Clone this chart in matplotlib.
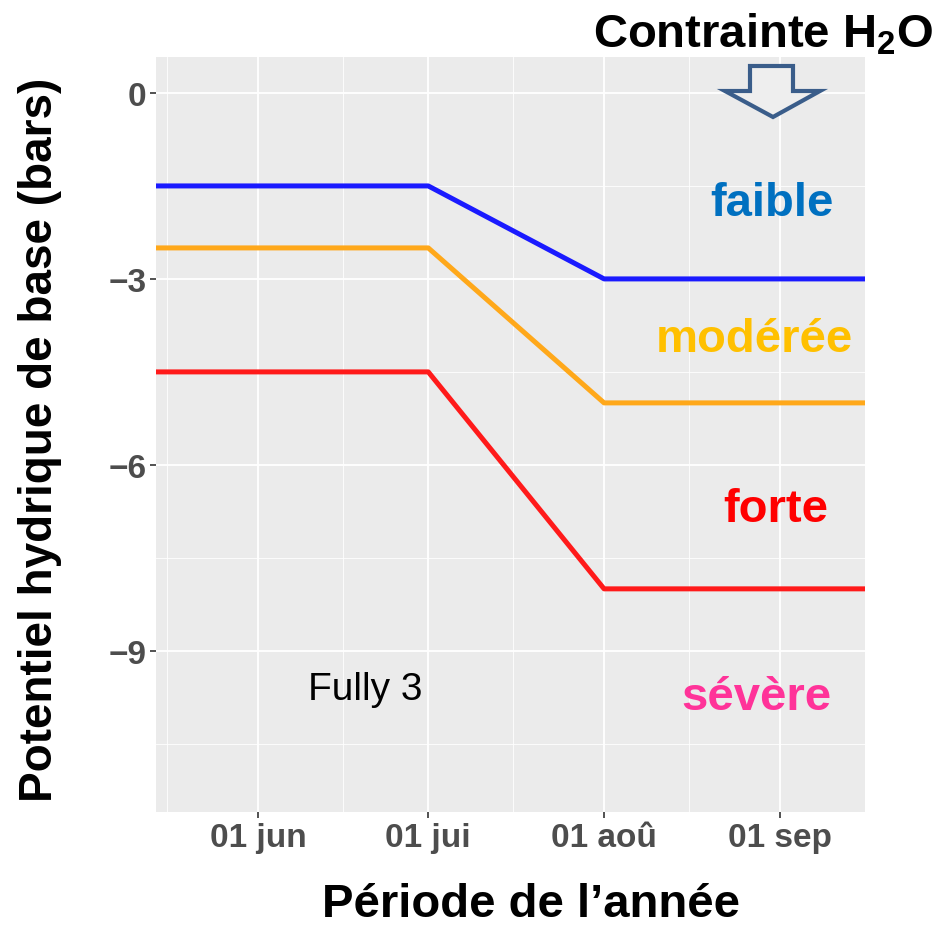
import numpy as np
import matplotlib
matplotlib.use("Agg")
import matplotlib.pyplot as plt
import matplotlib.dates as mdates
from matplotlib.patches import Polygon
import datetime as dt

plt.rcParams['font.family'] = ['Liberation Sans', 'DejaVu Sans']
plt.rcParams['mathtext.fontset'] = 'custom'
plt.rcParams['mathtext.rm'] = 'Liberation Sans'
plt.rcParams['mathtext.bf'] = 'Liberation Sans:bold'

# data
dates = [dt.date(2020, 5, 14), dt.date(2020, 7, 1), dt.date(2020, 8, 1), dt.date(2020, 9, 16)]
faible = [-1.5, -1.5, -3.0, -3.0]
moderee = [-2.5, -2.5, -5.0, -5.0]
forte = [-4.5, -4.5, -8.0, -8.0]

tick_dates = [dt.date(2020, 6, 1), dt.date(2020, 7, 1), dt.date(2020, 8, 1), dt.date(2020, 9, 1)]
tick_labels = ["01 jun", "01 jui", "01 aoû", "01 sep"]
minor_dates = [dt.date(2020, 5, 16), dt.date(2020, 6, 16), dt.date(2020, 7, 16), dt.date(2020, 8, 16)]
y_ticks = [0, -3, -6, -9]
y_tick_labels = ["0", "\u22123", "\u22126", "\u22129"]
y_minor = [-1.5, -4.5, -7.5, -10.5]

W, H = 939, 928
fig = plt.figure(figsize=(W / 100, H / 100), dpi=100)
L, R, T, B = 156, 865, 58, 813
ax = fig.add_axes([L / W, 1 - B / H, (R - L) / W, (B - T) / H])
ax.set_facecolor('#EBEBEB')

x = mdates.date2num(dates)
ax.plot(x, faible, color='#1A1AFF', lw=3.6, solid_capstyle='butt', zorder=3)
ax.plot(x, moderee, color='#FFA81A', lw=3.6, solid_capstyle='butt', zorder=3)
ax.plot(x, forte, color='#FF1A1A', lw=3.6, solid_capstyle='butt', zorder=3)

ax.set_xlim(x[0], x[-1])
ax.set_ylim(-11.6, 0.58)

ax.set_xticks(mdates.date2num(tick_dates))
ax.set_xticklabels(tick_labels)
ax.set_xticks(mdates.date2num(minor_dates), minor=True)
ax.set_yticks(y_ticks)
ax.set_yticklabels(y_tick_labels)
ax.set_yticks(y_minor, minor=True)

ax.grid(True, which='major', color='white', lw=1.3)
ax.grid(True, which='minor', color='white', lw=0.6)
ax.set_axisbelow(True)
for s in ax.spines.values():
    s.set_visible(False)

ax.tick_params(which='major', length=4, width=1.2, color='#333333',
               labelsize=24, labelcolor='#4D4D4D', pad=3)
ax.tick_params(which='minor', length=0)
for lab in ax.get_xticklabels() + ax.get_yticklabels():
    lab.set_fontweight('bold')

ax.set_xlabel("Période de l\u2019année", fontsize=34, fontweight='bold')
ax.set_ylabel("Potentiel hydrique de base (bars)", fontsize=33, fontweight='bold')
ax.xaxis.label.set_va('center')
ax.yaxis.label.set_va('center')
ax.xaxis.set_label_coords((531 - L) / (R - L), (B - 905) / (B - T))
ax.yaxis.set_label_coords((40 - L) / (R - L), (B - 440) / (B - T))


def fx(px):
    return px / W


def fy(py):
    return 1 - py / H


# labels
fig.text(fx(772), fy(204), "faible", color='#0070C0', fontsize=34, fontweight='bold', ha='center', va='center')
fig.text(fx(754), fy(340), "modérée", color='#FFC000', fontsize=34, fontweight='bold', ha='center', va='center')
fig.text(fx(776), fy(510), "forte", color='#FF0000', fontsize=34, fontweight='bold', ha='center', va='center')
fig.text(fx(756), fy(698), "sévère", color='#FF3399', fontsize=34, fontweight='bold', ha='center', va='center')
fig.text(fx(365), fy(690), "Fully 3", color='black', fontsize=28, ha='center', va='center')
fig.text(fx(933), fy(35), r"Contrainte H$_\mathbf{2}$O", color='black', fontsize=34,
         fontweight='bold', ha='right', va='center')

# hollow arrow
arrow_px = [(750, 67), (793, 67), (793, 92), (820, 92), (773, 118), (725, 92), (750, 92)]
arrow = Polygon([(fx(a), fy(b)) for a, b in arrow_px], closed=True, transform=fig.transFigure,
                facecolor='#EEEEEE', edgecolor='#3A5D8A', lw=3, zorder=5)
fig.patches.append(arrow)

fig.savefig("out.png", dpi=100)
